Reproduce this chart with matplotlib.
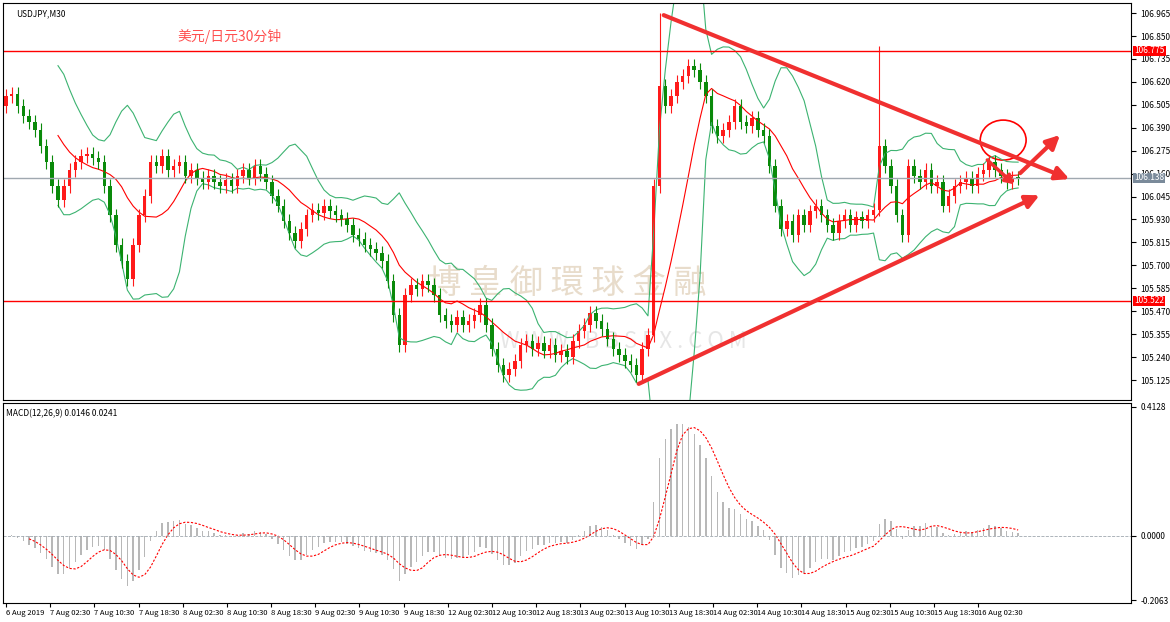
import numpy as np
import matplotlib
matplotlib.use("Agg")
import matplotlib.pyplot as plt
from matplotlib.patches import Ellipse

plt.rcParams['font.family'] = ['Noto Sans CJK SC', 'DejaVu Sans']

closes = [
 106.55,106.56,106.50,106.45,106.42,106.38,106.30,106.22,106.10,106.03,
 106.10,106.18,106.22,106.25,106.26,106.24,106.22,106.10,105.95,105.80,
 105.72,105.63,105.80,105.95,106.05,106.22,106.20,106.25,106.18,106.20,
 106.22,106.15,106.18,106.14,106.12,106.15,106.12,106.10,106.13,106.10,
 106.15,106.18,106.14,106.20,106.16,106.12,106.05,106.00,105.92,105.86,
 105.82,105.88,105.95,105.98,105.96,106.00,105.97,105.95,105.93,105.90,
 105.85,105.83,105.80,105.78,105.76,105.72,105.62,105.45,105.30,105.55,
 105.60,105.58,105.62,105.60,105.55,105.45,105.42,105.40,105.44,105.40,
 105.42,105.45,105.50,105.40,105.28,105.20,105.15,105.18,105.22,105.30,
 105.32,105.28,105.31,105.27,105.30,105.25,105.27,105.24,105.32,105.37,
 105.40,105.46,105.42,105.38,105.33,105.28,105.25,105.22,105.20,105.15,
 105.28,105.35,106.10,106.60,106.50,106.55,106.62,106.65,106.70,106.68,
 106.62,106.55,106.40,106.35,106.38,106.42,106.50,106.42,106.40,106.44,
 106.38,106.35,106.20,106.00,105.88,105.92,105.85,105.95,105.90,105.97,
 106.00,105.95,105.90,105.86,105.92,105.95,105.90,105.94,105.92,105.95,
 105.98,106.30,106.20,106.10,105.95,105.85,106.20,106.15,106.12,106.18,
 106.10,106.12,106.00,106.05,106.10,106.12,106.14,106.10,106.16,106.18,
 106.22,106.18,106.15,106.12,106.14,106.138]
high_spikes = {113: 106.965, 151: 106.80}
first_open = 106.50

tick_labels = ["6 Aug 2019","7 Aug 02:30","7 Aug 10:30","7 Aug 18:30","8 Aug 02:30",
 "8 Aug 10:30","8 Aug 18:30","9 Aug 02:30","9 Aug 10:30","9 Aug 18:30","12 Aug 02:30",
 "12 Aug 10:30","12 Aug 18:30","13 Aug 02:30","13 Aug 10:30","13 Aug 18:30","14 Aug 02:30",
 "14 Aug 10:30","14 Aug 18:30","15 Aug 02:30","15 Aug 10:30","15 Aug 18:30","16 Aug 02:30"]
price_ticks = [106.965,106.850,106.735,106.620,106.505,106.390,106.275,106.160,106.045,
 105.930,105.815,105.700,105.585,105.470,105.355,105.240,105.125]
level_hi, level_lo, last_price = 106.775, 105.522, 106.138

c = np.array(closes)
o = np.concatenate([[first_open], c[:-1]])
n = len(c)
x = np.arange(n)
hi = np.maximum(o, c) + 0.035
lo = np.minimum(o, c) - 0.035
for k, v in high_spikes.items():
    hi[k] = v

def sma(a, p):
    out = np.full(len(a), np.nan)
    for i in range(p-1, len(a)):
        out[i] = a[i-p+1:i+1].mean()
    return out
def sstd(a, p):
    out = np.full(len(a), np.nan)
    for i in range(p-1, len(a)):
        out[i] = a[i-p+1:i+1].std()
    return out
def ema(a, p):
    k = 2/(p+1); out = np.zeros(len(a)); out[0] = a[0]
    for i in range(1, len(a)):
        out[i] = a[i]*k + out[i-1]*(1-k)
    return out

mid = sma(c, 10); sd = sstd(c, 10)
macd = ema(c, 6) - ema(c, 13)
sig = sma(macd, 5)

fig = plt.figure(figsize=(11.7, 6.22), dpi=100)
ax = fig.add_axes([0.0026, 0.357, 0.964, 0.638])
ax2 = fig.add_axes([0.0026, 0.0305, 0.964, 0.3215])
for a in (ax, ax2):
    a.set_xlim(-0.5, 194.5)
    for s in a.spines.values():
        s.set_linewidth(0.8); s.set_color('black')
ax.set_ylim(105.025, 107.015)
ax2.set_ylim(-0.216, 0.425)

ax.plot(x, mid, color='red', lw=0.8)
ax.plot(x, mid + 2*sd, color='#3cb371', lw=0.8)
ax.plot(x, mid - 2*sd, color='#3cb371', lw=0.8)
for i in range(n):
    col = '#ff1a1a' if c[i] >= o[i] else '#0a8a0a'
    ax.vlines(x[i], lo[i], hi[i], color=col, lw=0.8)
    ax.bar(x[i], max(abs(c[i]-o[i]), 0.004), bottom=min(o[i], c[i]), width=0.6, color=col)

ax.axhline(level_hi, color='red', lw=1)
ax.axhline(level_lo, color='red', lw=1)
ax.axhline(last_price, color='#a0a8b0', lw=1)

ax.text(0.155, 0.905, '美元/日元30分钟', transform=ax.transAxes, color='#ff5050', fontsize=10)
ax.text(0.012, 0.985, 'USDJPY,M30', transform=ax.transAxes, fontsize=6, va='top')
ax.text(0.5, 0.27, '博 皇 御 環 球 金 融', transform=ax.transAxes, color='#e8dccb',
        fontsize=24, ha='center', zorder=0)
ax.text(0.55, 0.13, 'W W W . B B S F X . C O M', transform=ax.transAxes, color='#e6e6e6',
        fontsize=16, ha='center', zorder=0)

def px(xp): return (xp-3)/5.8
def py(yp): return 107.015 - (yp-3)*0.005014
ak = dict(arrowstyle='-|>,head_length=0.8,head_width=0.4', color='#f03030', lw=3)
ax.annotate('', xy=(px(1072), py(180)), xytext=(px(660), py(14)), arrowprops=ak)
ax.annotate('', xy=(px(1042), py(194)), xytext=(px(635), py(385)), arrowprops=ak)
ax.annotate('', xy=(px(1062), py(133)), xytext=(px(1018), py(175)), arrowprops=ak)
ax.annotate('', xy=(px(1016), py(186)), xytext=(px(985), py(158)),
            arrowprops=dict(arrowstyle='-|>,head_length=0.5,head_width=0.3', color='#f03030', lw=2.5))
ax.add_patch(Ellipse((px(1003), py(140)), 46/5.8, 40*0.005014, fill=False, ec='red', lw=1.2))

ax.yaxis.tick_right()
ax.set_yticks(price_ticks)
ax.set_yticklabels([f"{t:.3f}" for t in price_ticks], fontsize=6)
ax.set_xticks([])
for val, fc in ((level_hi, 'red'), (level_lo, 'red'), (last_price, '#7a8a9a')):
    ax.text(1.003, val, f"{val:.3f}", transform=ax.get_yaxis_transform(), fontsize=6,
            color='white', va='center', zorder=10,
            bbox=dict(boxstyle='square,pad=0.1', fc=fc, ec='none'))

ax2.bar(x, macd, width=0.25, color='#b8b8b8')
ax2.plot(x, sig, color='red', lw=0.8, ls=(0, (2, 1.5)))
ax2.axhline(0, color='#a0a8b0', lw=0.6, ls='--')
ax2.text(0.003, 0.97, 'MACD(12,26,9) 0.0146 0.0241', transform=ax2.transAxes, fontsize=6, va='top')
ax2.yaxis.tick_right()
ax2.set_yticks([0.4128, 0.0, -0.2063])
ax2.set_yticklabels(['0.4128', '0.0000', '-0.2063'], fontsize=6)
ax2.set_xticks(np.arange(len(tick_labels))*7.64)
ax2.set_xticklabels(tick_labels, fontsize=5.5, ha='left')
ax2.tick_params(axis='x', length=3, pad=1)

fig.savefig('out.png', dpi=100)
